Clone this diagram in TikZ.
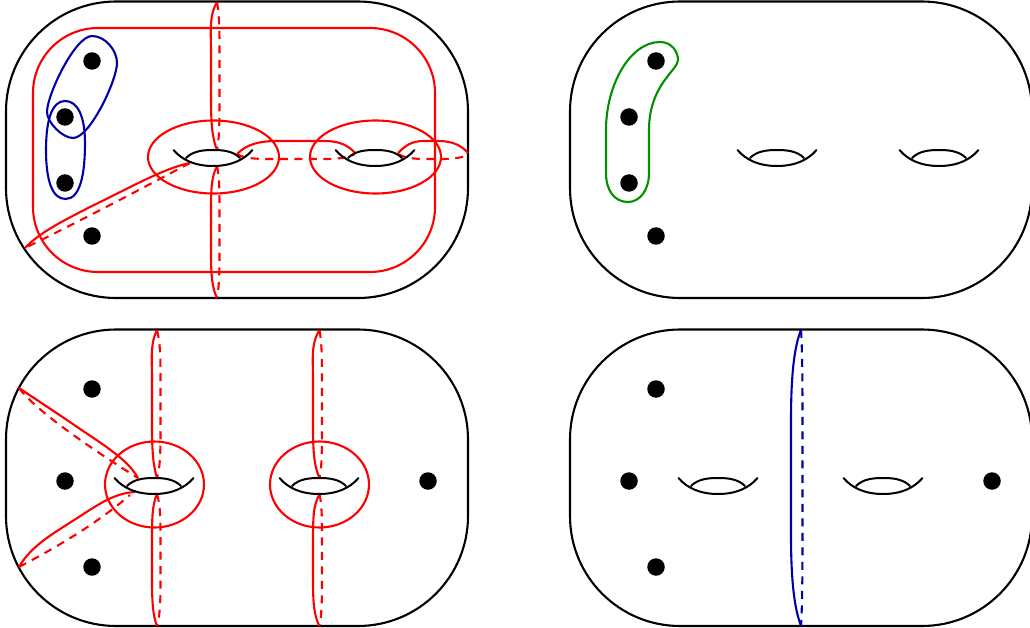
\documentclass[tikz,border=0pt]{standalone}
\usepackage{amsmath,amssymb}
\usetikzlibrary{arrows.meta,positioning,calc}
\definecolor{CutRed}{HTML}{FF0000}
\definecolor{LoopBlue}{HTML}{0000AA}
\definecolor{LoopGreen}{HTML}{009100}
\tikzset{
  surface/.style={line width=2.1pt,draw=black,rounded corners=110pt},
  puncture/.style={circle,fill=black,inner sep=0pt,minimum size=17.5pt},
  cut/.style={line width=2.1pt,draw=CutRed},
  backcut/.style={cut,dash pattern=on 8pt off 6.5pt},
  loopb/.style={line width=2.1pt,draw=LoopBlue},
  loopg/.style={line width=2.1pt,draw=LoopGreen},
  hole/.pic={
    \draw[line width=2pt,line cap=round] (-39.5,-7) .. controls (-31,3) and (-18,9) .. (0,9) .. controls (18,9) and (31,3) .. (39.5,-7);
    \draw[line width=2pt,line cap=round] (-27,1) .. controls (-20,-6) and (-10,-7) .. (0,-7) .. controls (10,-7) and (20,-6) .. (27,1);
  }
}
% meridian through a hole: top end, solid x, dashed x, hole top, hole bottom, bottom end
\newcommand{\meridian}[6]{
  \draw[cut] (#1,#4) .. controls ({#2-1},{#4+12}) and ({#2-0.5},{#4+24}) .. (#2,{#4+45}) -- (#2,{#5-50}) .. controls (#2,{#5-22}) and ({#2+2},{#5-10}) .. (#1,#5);
  \draw[backcut] (#1,#4) .. controls ({#3-0.5},{#4+12}) and (#3,{#4+24}) .. (#3,{#4+45}) -- (#3,{#5-50}) .. controls (#3,{#5-22}) and ({#3-0.5},{#5-10}) .. (#1,#5);
  \draw[cut] (#1,{#5+16}) .. controls (#2,{#5+28}) and (#2,{#5+40}) .. (#2,{#5+66}) -- (#2,{#6-45}) .. controls (#2,{#6-24}) and ({#2+1},{#6-10}) .. (#1,#6);
  \draw[backcut] (#1,{#5+16}) .. controls (#3,{#5+28}) and (#3,{#5+40}) .. (#3,{#5+66}) -- (#3,{#6-45}) .. controls (#3,{#6-24}) and ({#3-0.5},{#6-10}) .. (#1,#6);
}
\begin{document}
\begin{tikzpicture}[x=1pt,y=-1pt]
  \useasboundingbox (0,0) rectangle (1030,628);
  % the four surfaces
  \draw[surface] (6,1.5) rectangle (468,298);
  \draw[surface] (570,1.5) rectangle (1032,298);
  \draw[surface] (6,329.5) rectangle (468,626);
  \draw[surface] (570,329.5) rectangle (1032,626);

  % top left
  \draw[cut,rounded corners=65pt] (33,28) rectangle (435,272);
  \draw[cut] (213.5,157) ellipse [x radius=65.5,y radius=36.5];
  \draw[cut] (375.5,157) ellipse [x radius=65.5,y radius=36.5];
  \meridian{217}{211}{219.5}{2}{150}{298}
  \draw[cut] (237,154) .. controls (247,144) and (260,141) .. (277,141) -- (325,141) .. controls (340,141) and (349,146) .. (355,153);
  \draw[backcut] (237,154) .. controls (245,159) and (258,159) .. (275,159) -- (325,159) .. controls (340,159) and (349,157) .. (355,154);
  \draw[cut] (398,153) .. controls (406,145) and (412,141) .. (424,141) -- (438,141) .. controls (452,141) and (461,145) .. (468,153);
  \draw[backcut] (398,154) .. controls (405,158) and (415,159) .. (425,159) -- (440,159) .. controls (452,159) and (461,158) .. (468,155);
  \draw[cut] (190,163) .. controls (165,168) and (135,185) .. (90,207) .. controls (65,220) and (40,232) .. (25,248);
  \draw[backcut] (190,163) .. controls (150,184) and (100,211) .. (25,248);
  \draw[loopb] (92,36) .. controls (105,36) and (117,50) .. (117,63) .. controls (117,80) and (90,138) .. (73,138) .. controls (62,138) and (47,122) .. (47,112) .. controls (47,95) and (75,36) .. (92,36) -- cycle;
  \draw[loopb] (65,101) .. controls (77,101) and (85,115) .. (85,143) .. controls (85,175) and (80,199) .. (65.5,199) .. controls (52,199) and (46,180) .. (46,150) .. controls (46,120) and (52,101) .. (65,101) -- cycle;
  \pic at (213,157) {hole};
  \pic at (375,157) {hole};
  \foreach \name/\pos in {a/{92,61},b/{65,117},c/{65,183},d/{92,236}}
    \node[puncture] (tl\name) at (\pos) {};

  % top right
  \draw[loopg] (660,42) .. controls (672,42) and (678,52) .. (678,60) .. controls (678,70) and (649,85) .. (649,130) -- (649,173) .. controls (649,190) and (640,202) .. (628,202) .. controls (614,202) and (606,190) .. (606,173) -- (606,130) .. controls (606,85) and (630,42) .. (660,42) -- cycle;
  \pic at (777,157) {hole};
  \pic at (939,157) {hole};
  \foreach \name/\pos in {a/{656,61},b/{629,117},c/{629,183},d/{656,236}}
    \node[puncture] (tr\name) at (\pos) {};

  % bottom left
  \draw[cut] (154.5,484.5) ellipse [x radius=49.5,y radius=43];
  \draw[cut] (319.5,484.5) ellipse [x radius=49.5,y radius=43];
  \meridian{157}{152}{160.5}{330}{478}{626}
  \meridian{319.5}{313}{322}{330}{478}{626}
  \draw[cut] (19,388) -- (67,420) .. controls (100,443) and (127,458) .. (138,478);
  \draw[backcut] (19,388) .. controls (35,410) and (90,448) .. (138,478);
  \draw[cut] (135,492) .. controls (118,493) and (105,500) .. (85,513) -- (57,531) .. controls (40,542) and (27,553) .. (19,567);
  \draw[backcut] (19,567) .. controls (55,548) and (95,525) .. (130,495);
  \pic at (154,485) {hole};
  \pic at (319,485) {hole};
  \foreach \name/\pos in {a/{92,389},b/{65,481},c/{92,567},d/{428,481}}
    \node[puncture] (bl\name) at (\pos) {};

  % bottom right
  \draw[loopb] (801,330) .. controls (795,345) and (791,370) .. (791,420) -- (791,535) .. controls (791,585) and (795,610) .. (801,626);
  \draw[loopb,dash pattern=on 8pt off 6.5pt] (801,330) .. controls (802,345) and (802.5,370) .. (802.5,420) -- (802.5,535) .. controls (802.5,585) and (802,610) .. (801,626);
  \pic at (718,485) {hole};
  \pic at (883,485) {hole};
  \foreach \name/\pos in {a/{656,389},b/{629,481},c/{656,567},d/{992,481}}
    \node[puncture] (br\name) at (\pos) {};
\end{tikzpicture}
\end{document}
